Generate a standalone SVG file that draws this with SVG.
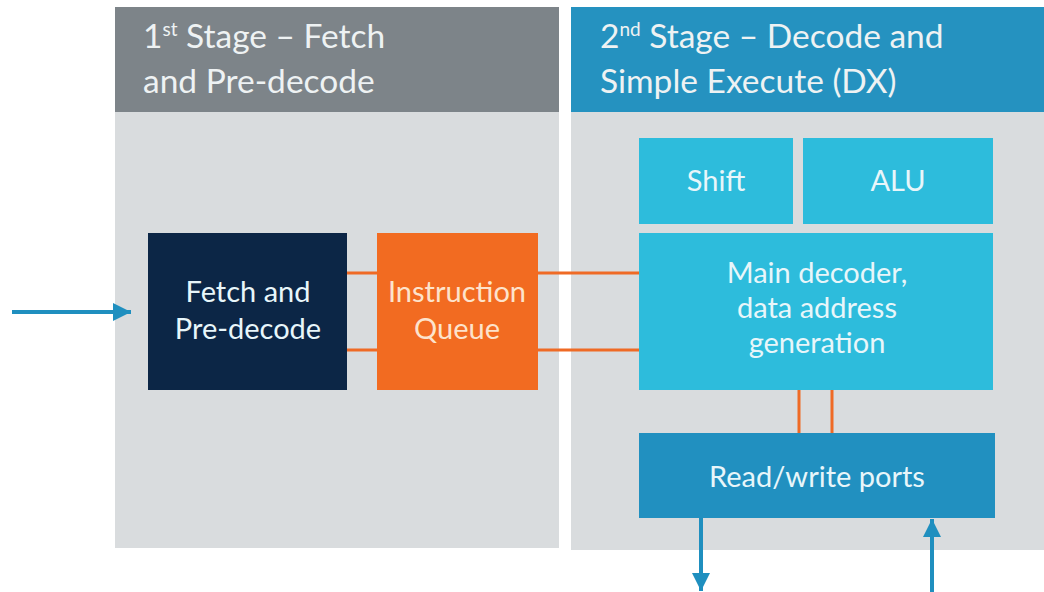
<svg xmlns="http://www.w3.org/2000/svg" width="1044" height="592" viewBox="0 0 1044 592">
  <defs>
    <style>
      .hdr { font-family: Lato, "Open Sans", sans-serif; font-size: 33.5px; fill: #eef2f3; }
      .lbl { font-family: Lato, "Open Sans", sans-serif; font-size: 29px; text-anchor: middle; }
      .light { fill: #e8f6fa; }
      .peach { fill: #fde3cc; }
      .bus { stroke: #ef6a25; stroke-width: 3; fill: none; }
      .flow { stroke: #1f8fbf; stroke-width: 4; fill: none; }
    </style>
    <marker id="head" viewBox="0 0 10 10" refX="10" refY="5" markerWidth="4.5" markerHeight="4.5" markerUnits="strokeWidth" orient="auto">
      <path d="M0,0 L10,5 L0,10 Z" fill="#1f8fbf"/>
    </marker>
  </defs>

  <rect width="1044" height="592" fill="#ffffff"/>

  <!-- Stage 1 panel -->
  <g id="stage1">
    <rect x="115" y="7" width="444" height="541" fill="#d9dcde"/>
    <rect x="115" y="7" width="444" height="105" fill="#7d8489"/>
    <text class="hdr" x="143" y="48">1<tspan font-size="19" dy="-12">st</tspan><tspan dy="12"> Stage – Fetch</tspan></text>
    <text class="hdr" x="143" y="93">and Pre-decode</text>
  </g>

  <!-- Stage 2 panel -->
  <g id="stage2">
    <rect x="571" y="7" width="473" height="543" fill="#d9dcde"/>
    <rect x="571" y="7" width="473" height="105" fill="#2592c0"/>
    <text class="hdr" x="600" y="48">2<tspan font-size="19" dy="-12">nd</tspan><tspan dy="12"> Stage – Decode and</tspan></text>
    <text class="hdr" x="600" y="93">Simple Execute (DX)</text>
  </g>

  <!-- Connectors -->
  <g id="connectors">
    <line class="bus" x1="347" y1="273" x2="377" y2="273"/>
    <line class="bus" x1="347" y1="350" x2="377" y2="350"/>
    <line class="bus" x1="538" y1="273" x2="639" y2="273"/>
    <line class="bus" x1="538" y1="350" x2="639" y2="350"/>
    <line class="bus" x1="799" y1="390" x2="799" y2="433"/>
    <line class="bus" x1="832" y1="390" x2="832" y2="433"/>
    <line class="flow" x1="12" y1="312" x2="131" y2="312" marker-end="url(#head)"/>
    <line class="flow" x1="701" y1="518" x2="701" y2="591" marker-end="url(#head)"/>
    <line class="flow" x1="932" y1="592" x2="932" y2="519" marker-end="url(#head)"/>
  </g>

  <g id="fetch">
    <rect x="148" y="233" width="199" height="157" fill="#0c2646"/>
    <text class="lbl light" x="248" y="302">Fetch and</text>
    <text class="lbl light" x="248" y="339">Pre-decode</text>
  </g>

  <g id="queue">
    <rect x="377" y="233" width="161" height="157" fill="#f26b21"/>
    <text class="lbl peach" x="457" y="302">Instruction</text>
    <text class="lbl peach" x="457" y="339">Queue</text>
  </g>

  <g id="shift">
    <rect x="639" y="138" width="154" height="86" fill="#2dbcdc"/>
    <text class="lbl light" x="716" y="191">Shift</text>
  </g>

  <g id="alu">
    <rect x="803" y="138" width="190" height="86" fill="#2dbcdc"/>
    <text class="lbl light" x="898" y="191">ALU</text>
  </g>

  <g id="decoder">
    <rect x="639" y="233" width="354" height="157" fill="#2dbcdc"/>
    <text class="lbl light" x="817" y="283">Main decoder,</text>
    <text class="lbl light" x="817" y="318">data address</text>
    <text class="lbl light" x="817" y="353">generation</text>
  </g>

  <g id="ports">
    <rect x="639" y="433" width="356" height="85" fill="#2190c0"/>
    <text class="lbl light" x="817" y="487">Read/write ports</text>
  </g>
</svg>
